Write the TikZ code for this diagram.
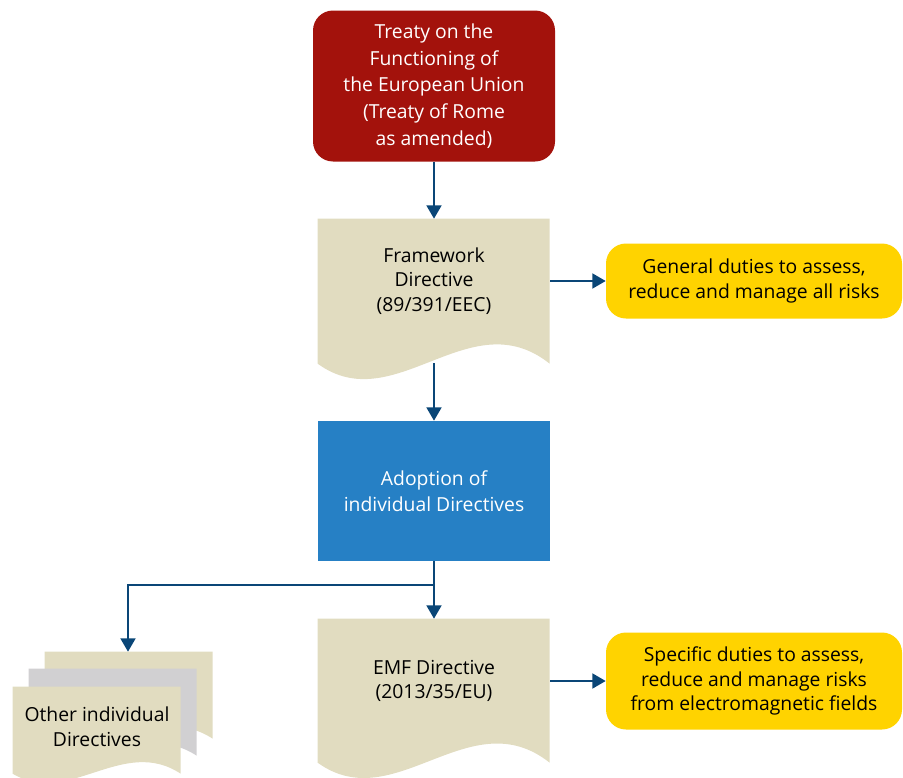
\documentclass[tikz,border=0pt]{standalone}
\usepackage{fontspec}
\setmainfont{Open Sans}
\usetikzlibrary{arrows.meta,backgrounds}

\definecolor{treatyred}{HTML}{A3120C}
\definecolor{docbeige}{HTML}{E1DCC0}
\definecolor{docgrey}{HTML}{D1D0D2}
\definecolor{adoptblue}{HTML}{2680C5}
\definecolor{dutyyellow}{HTML}{FFD300}
\definecolor{flownavy}{HTML}{0A4677}

\tikzset{
    every node/.style={font=\fontsize{14.5}{18.5}\selectfont, align=center},
    flow/.style={draw=flownavy, line width=2pt, -{Triangle[length=10pt,width=11pt]}},
    treaty/.style={fill=treatyred, text=white, rounded corners=15pt,
        minimum width=181.5pt, minimum height=113.25pt, font=\fontsize{14.5}{20}\selectfont},
    duty/.style={fill=dutyyellow, rounded corners=15pt, minimum width=222pt},
    adoptbox/.style={fill=adoptblue, text=white, minimum width=174pt, minimum height=105pt,
        font=\fontsize{14.5}{19.5}\selectfont},
    doctext/.style={minimum width=174pt},
    docpage/.pic={
        \path[pic actions] (0,0) -- (1,0) -- (1,1)
            .. controls (0.655,0.559) and (0.332,1.386) .. (0,1) -- cycle;
    }
}

\begin{document}
\begin{tikzpicture}[x=0.75pt, y=-0.75pt]
        \useasboundingbox (0,0) rectangle (903,778);

        % --- ノードの配置 ---
        \node[treaty] (treaty) at (434,86) {Treaty on the\\Functioning of\\the European Union\\(Treaty of Rome\\as amended)};
        \node[doctext, minimum height=93pt] (fw) at (434,281) {Framework\\Directive\\(89/391/EEC)};
        \node[duty, minimum height=56.25pt] (general) at (754,281) {General duties to assess,\\reduce and manage all risks};
        \node[adoptbox] (adopt) at (434,491) {Adoption of\\individual Directives};
        \node[doctext, minimum height=93pt] (emf) at (434,681) {EMF Directive\\(2013/35/EU)};
        \node[duty, minimum height=72.75pt] (specific) at (754,681) {Specific duties to assess,\\reduce and manage risks\\from electromagnetic fields};
        \node[doctext, minimum width=126pt, minimum height=60pt] (other) at (97,727) {Other individual\\Directives};

        % 分岐点
        \coordinate (split) at (434,585);

        % --- 文書の形 (背景) ---
        \begin{scope}[on background layer]
            \pic[fill=docbeige, xscale=232, yscale=145] at (fw.north west) {docpage};
            \pic[fill=docbeige, xscale=232, yscale=144] at (emf.north west) {docpage};
            % 重ねた文書: 奥から手前へ
            \foreach \dx/\dy/\col in {32/-35/docbeige, 16/-18/docgrey, 0/0/docbeige} {
                \pic[fill=\col, xscale=168, yscale=87] at ([shift={(\dx,\dy)}]other.north west) {docpage};
            }
        \end{scope}

        % --- 矢印 ---
        \draw[flow] (treaty) -- (fw);
        \draw[flow] (fw.east) -- (general.west);
        \draw[flow] ([yshift=-15pt]fw.south) -- (adopt.north);
        \draw[flow, -] (adopt.south) -- (split);
        \draw[flow] (split) -- (emf.north);
        \draw[flow] (split) -| ([shift={(31,-35)}]other.north);
        \draw[flow] (emf.east) -- (specific.west);

\end{tikzpicture}
\end{document}
